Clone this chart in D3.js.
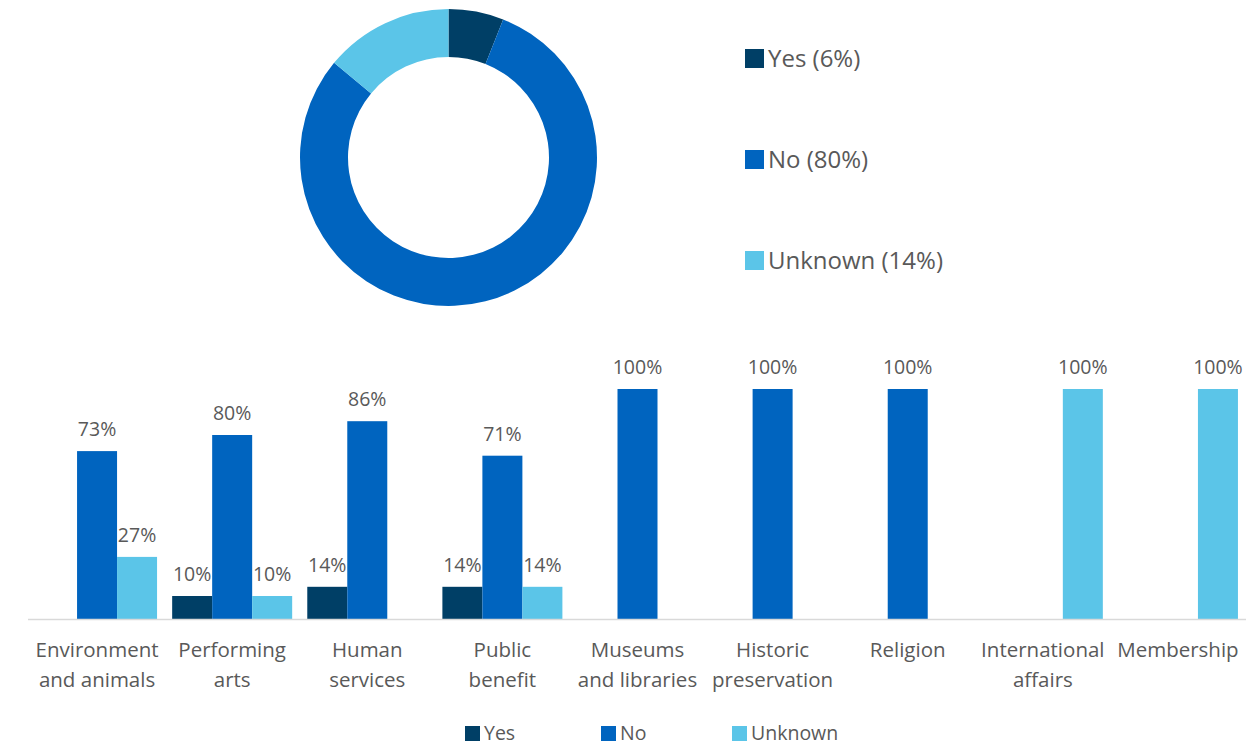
<!DOCTYPE html>
<html>
<head>
<meta charset="utf-8">
<script src="https://cdn.jsdelivr.net/npm/d3@7"></script>
<style>
  body { margin: 0; background: #fff; }
  svg { display: block; font-family: "Open Sans", "Noto Sans", sans-serif; }
</style>
</head>
<body>
<svg id="chart" width="1257" height="746"></svg>
<script>
// Overall shares
const seriesNames = ["Yes", "No", "Unknown"];
const overallShares = [6, 80, 14];

// Shares by category (percent)
const categories = [
  ["Environment", "and animals"],
  ["Performing", "arts"],
  ["Human", "services"],
  ["Public", "benefit"],
  ["Museums", "and libraries"],
  ["Historic", "preservation"],
  ["Religion"],
  ["International", "affairs"],
  ["Membership"]
];
const yesValues =     [0, 10, 14, 14, 0, 0, 0, 0, 0];
const noValues =      [73, 80, 86, 71, 100, 100, 100, 0, 0];
const unknownValues = [27, 10, 0, 14, 0, 0, 0, 100, 100];

const colors = ["#003F66", "#0064BF", "#5BC5E8"];
const textColor = "#595959";

const svg = d3.select("#chart");

// ---- Donut ----
const color = d3.scaleOrdinal().domain(seriesNames).range(colors);
const pie = d3.pie().sort(null).value(d => d.value);
const arc = d3.arc().innerRadius(100.5).outerRadius(148.5);
const donutData = seriesNames.map((s, i) => ({ name: s, value: overallShares[i] }));

const donut = svg.append("g").attr("transform", "translate(448.5,157.5)");
donut.selectAll("path")
  .data(pie(donutData))
  .join("path")
  .attr("d", arc)
  .attr("fill", d => color(d.data.name));

// Donut legend
const legTop = svg.append("g").attr("transform", "translate(745,0)");
const legY = d3.scalePoint().domain(seriesNames).range([59, 261]);
seriesNames.forEach((s, i) => {
  const g = legTop.append("g").attr("transform", `translate(0,${legY(s)})`);
  g.append("rect").attr("x", 0).attr("y", -10).attr("width", 19).attr("height", 19)
    .attr("fill", color(s));
  g.append("text").attr("x", 23).attr("y", 8).attr("fill", textColor)
    .attr("font-size", 24).text(`${s} (${overallShares[i]}%)`);
});

// ---- Grouped bars ----
const catKeys = categories.map(c => c.join(" "));
const x0 = d3.scaleBand().domain(catKeys).range([29.5, 1245.5]);
const x1 = d3.scaleBand().domain(seriesNames).range([-60, 60]);
const y = d3.scaleLinear().domain([0, 100]).range([619, 389]);

const valuesBySeries = { Yes: yesValues, No: noValues, Unknown: unknownValues };
const barData = [];
catKeys.forEach((k, ci) => {
  seriesNames.forEach(s => {
    barData.push({ cat: k, series: s, value: valuesBySeries[s][ci] });
  });
});

const bars = svg.append("g");
const cx = k => x0(k) + x0.bandwidth() / 2;

bars.selectAll("rect")
  .data(barData.filter(d => d.value > 0))
  .join("rect")
  .attr("x", d => cx(d.cat) + x1(d.series))
  .attr("width", x1.bandwidth())
  .attr("y", d => y(d.value))
  .attr("height", d => y(0) - y(d.value))
  .attr("fill", d => color(d.series));

bars.selectAll("text.val")
  .data(barData.filter(d => d.value > 0))
  .join("text")
  .attr("class", "val")
  .attr("x", d => cx(d.cat) + x1(d.series) + x1.bandwidth() / 2)
  .attr("y", d => y(d.value) - 15)
  .attr("text-anchor", "middle")
  .attr("fill", textColor)
  .attr("font-size", 19.5)
  .text(d => d.value + "%");

// Baseline
svg.append("line")
  .attr("x1", 28).attr("x2", 1246)
  .attr("y1", y(0) + 0.5).attr("y2", y(0) + 0.5)
  .attr("stroke", "#D9D9D9").attr("stroke-width", 1.5);

// Category labels
const catG = svg.append("g");
categories.forEach((lines, i) => {
  const t = catG.append("text")
    .attr("x", cx(catKeys[i]))
    .attr("y", 657)
    .attr("text-anchor", "middle")
    .attr("fill", textColor)
    .attr("font-size", 20.5);
  lines.forEach((ln, j) => {
    t.append("tspan").attr("x", cx(catKeys[i])).attr("dy", j === 0 ? 0 : 29.5).text(ln);
  });
});

// Bottom legend
const legBottom = svg.append("g");
const legX = d3.scaleOrdinal().domain(seriesNames).range([465, 601, 732]);
seriesNames.forEach(s => {
  const g = legBottom.append("g").attr("transform", `translate(${legX(s)},733)`);
  g.append("rect").attr("x", 0).attr("y", -7).attr("width", 15).attr("height", 15)
    .attr("fill", color(s));
  g.append("text").attr("x", 19).attr("y", 7).attr("fill", textColor)
    .attr("font-size", 19.5).text(s);
});
</script>
</body>
</html>
